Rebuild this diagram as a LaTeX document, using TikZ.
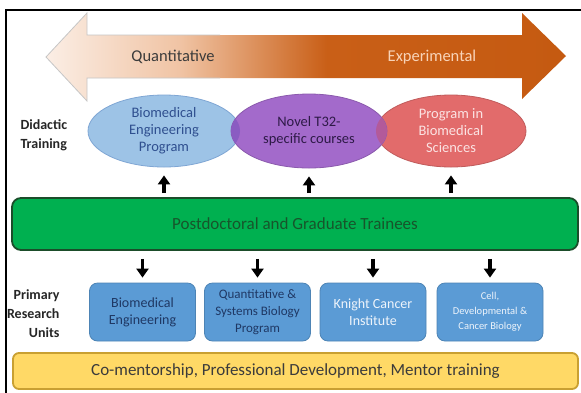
\documentclass[tikz,border=0pt]{standalone}
\usepackage{fontspec}
\setmainfont{Carlito}
\usetikzlibrary{shapes.geometric, arrows.meta, positioning}
\definecolor{peach}{HTML}{FBEEE5}
\definecolor{peachmid}{HTML}{F0C3A3}
\definecolor{rustmid}{HTML}{C95F17}
\definecolor{rust}{HTML}{C55A11}
\definecolor{quantgray}{HTML}{3B3B3B}
\definecolor{expcream}{HTML}{F8D3B8}
\definecolor{labelgray}{HTML}{262626}
\definecolor{bmeblue}{HTML}{9DC3E6}
\definecolor{bmeedge}{HTML}{7FA6D4}
\definecolor{bmetext}{HTML}{2F4F8F}
\definecolor{novelpurple}{HTML}{A36ACB}
\definecolor{noveltext}{HTML}{2E1A47}
\definecolor{bluepurple}{HTML}{8A5CC2}
\definecolor{pbsred}{HTML}{E26B6B}
\definecolor{redpurple}{HTML}{B35A9A}
\definecolor{pbstext}{HTML}{FBE3E3}
\definecolor{traingreen}{HTML}{00B050}
\definecolor{greenedge}{HTML}{1B4D2A}
\definecolor{greentext}{HTML}{17552B}
\definecolor{unitblue}{HTML}{5B9BD5}
\definecolor{unitdark}{HTML}{1F3864}
\definecolor{unitlight}{HTML}{EEF4FB}
\definecolor{mentoryellow}{HTML}{FFD966}
\definecolor{yellowedge}{HTML}{C9A032}
\pgfdeclarehorizontalshading{quantexp}{100bp}{color(0bp)=(peach); color(25bp)=(peach);
  color(38bp)=(peachmid); color(52bp)=(rustmid); color(75bp)=(rust); color(100bp)=(rust)}

\begin{document}
\begin{tikzpicture}[x=1pt, y=-1pt,
  didactic/.style={ellipse, inner sep=0pt, align=center, line width=0.8pt,
    font=\fontsize{14.5}{17}\selectfont},
  unitbox/.style={rectangle, rounded corners=8pt, fill=unitblue, draw=unitblue!85!black,
    line width=0.8pt, minimum width=106pt, minimum height=58pt, inner sep=0pt, align=center},
  flowarrow/.style={line width=3.2pt, -{Triangle[width=12pt,length=9pt]}},
  sidelabel/.style={font=\fontsize{14}{19}\selectfont\bfseries, text=labelgray}]

  % canvas and frame
  \useasboundingbox (0,0) rectangle (581,392);
  \fill[white] (0,0) rectangle (581,392);
  \draw[line width=1.6pt] (6,400) -- (6,10) -- (590,10);

  % Quantitative <-> Experimental
  \shade[shading=quantexp]
    (46,57) -- (87,13) -- (87,35) -- (522,35) -- (522,13) -- (566,56)
    -- (522,99) -- (522,78) -- (87,78) -- (87,101) -- cycle;
  \draw[gray!45, line width=0.8pt] (220,35) -- (87,35) -- (87,13) -- (46,57)
    -- (87,101) -- (87,78) -- (220,78);
  \node[text=quantgray, font=\fontsize{16.5}{18}\selectfont] (quant) at (173,57) {Quantitative};
  \node[text=expcream, font=\fontsize{16.5}{18}\selectfont] (exper) at (432,57) {Experimental};

  % Didactic training
  \node[sidelabel, anchor=west, align=left] (didlabel) at (17,135) {Didactic\\Training};
  \node[didactic, minimum width=152pt, minimum height=72pt, fill=bmeblue, draw=bmeedge, text=bmetext]
    (bme) at (164,131) {Biomedical\\Engineering\\Program};
  \node[didactic, minimum width=150pt, minimum height=72pt, fill=pbsred, draw=pbsred!85!black, text=pbstext]
    (pbs) at (451,131) {Program in\\Biomedical\\Sciences};
  \node[didactic, minimum width=156pt, minimum height=74pt, fill=novelpurple, draw=novelpurple!85!black, text=noveltext]
    (novel) at (309,131) {Novel T32-\\specific courses};
  \begin{scope}
    \clip (309,131) ellipse [x radius=78, y radius=37];
    \fill[bluepurple] (164,131) ellipse [x radius=76, y radius=36];
    \fill[redpurple] (451,131) ellipse [x radius=75, y radius=36];
  \end{scope}

  % Trainees
  \node[rectangle, rounded corners=9pt, fill=traingreen, draw=greenedge, line width=1.8pt,
    minimum width=566pt, minimum height=52pt, text=greentext, font=\fontsize{17}{19}\selectfont]
    (trainees) at (295,224) {Postdoctoral and Graduate Trainees};
  \foreach \e in {bme, novel, pbs}
    \draw[flowarrow, shorten <=4pt, shorten >=8pt] (trainees.north -| \e) -- (\e.south);

  % Primary research units
  \node[sidelabel, anchor=east, align=right] (unitlabel) at (63,314) {Primary\\Research\\Units};
  \node[unitbox, text=unitdark, font=\fontsize{14}{17}\selectfont] (bmeunit) at (142.5,312)
    {Biomedical\\Engineering};
  \node[unitbox, text=unitdark, font=\fontsize{13}{17}\selectfont] (qsb) at (257.5,312)
    {Quantitative \&\\Systems Biology\\Program};
  \node[unitbox, text=unitlight, font=\fontsize{14}{17}\selectfont] (kci) at (373,312)
    {Knight Cancer\\Institute};
  \node[unitbox, text=unitlight, font=\fontsize{10.5}{15}\selectfont] (cdcb) at (490,312)
    {Cell,\\Developmental \&\\Cancer Biology};
  \foreach \u in {bmeunit, qsb, kci, cdcb}
    \draw[flowarrow, shorten <=8pt, shorten >=5pt] (trainees.south -| \u) -- (\u.north);

  % Mentoring
  \node[rectangle, rounded corners=6pt, fill=mentoryellow, draw=yellowedge, line width=1.8pt,
    minimum width=565pt, minimum height=36pt, text=quantgray, font=\fontsize{17}{19}\selectfont]
    (mentor) at (295.5,371) {Co-mentorship, Professional Development, Mentor training};
\end{tikzpicture}
\end{document}
